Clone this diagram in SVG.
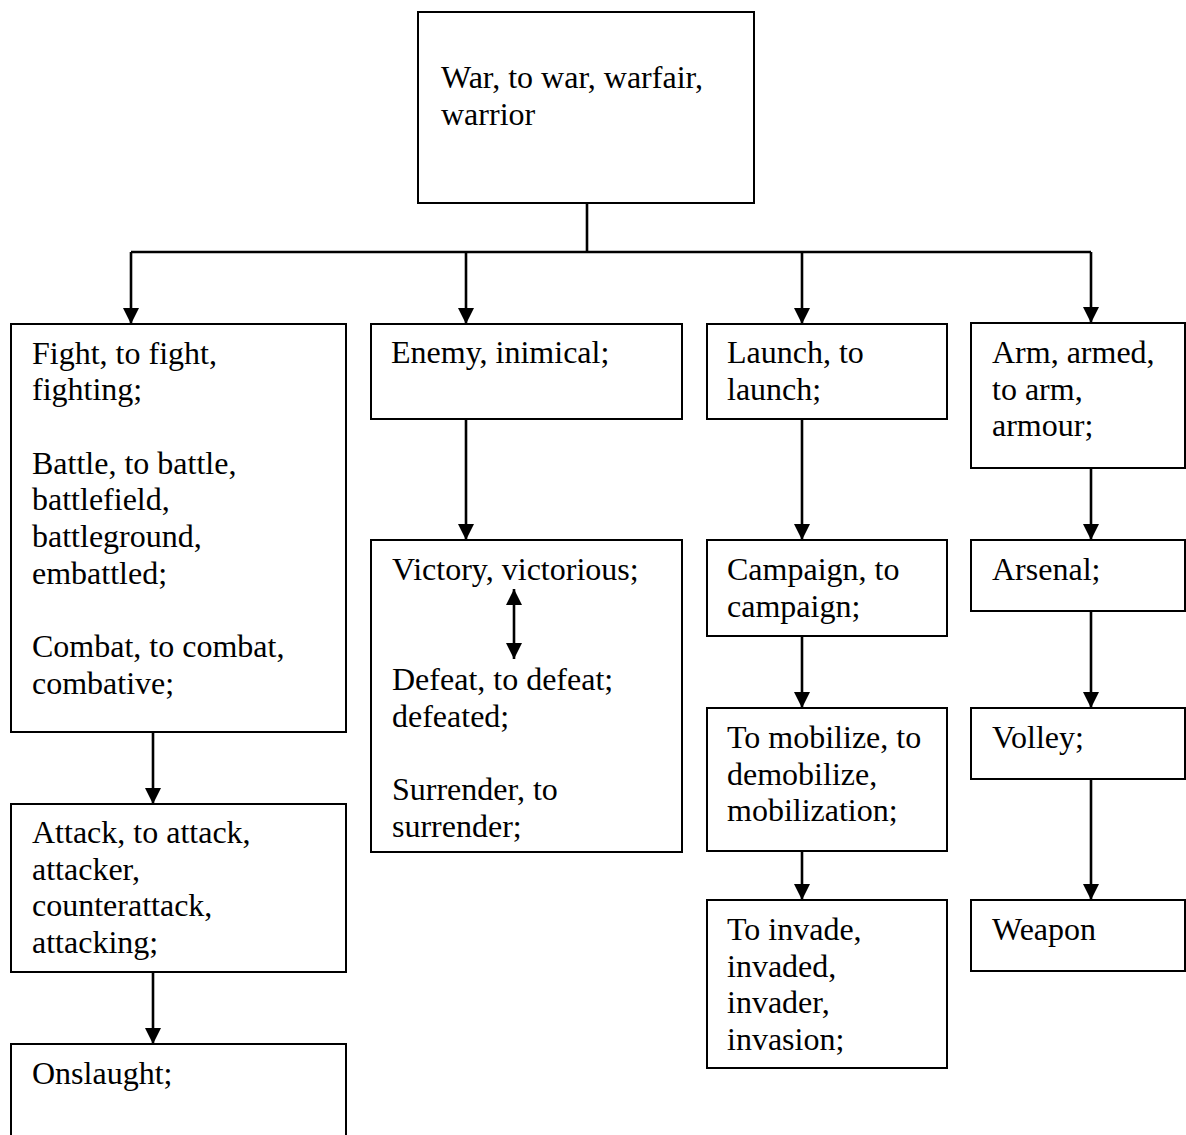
<svg xmlns="http://www.w3.org/2000/svg" width="1186" height="1135" viewBox="0 0 1186 1135">
<style>
.box{fill:#fff;stroke:#000;stroke-width:2}
.t{font-family:"Liberation Serif","Times New Roman",serif;font-size:32px;fill:#000}
.c{stroke:#000;stroke-width:2.6;fill:none}
.a{marker-end:url(#ah)}
</style>
<defs>
<marker id="ah" markerUnits="userSpaceOnUse" markerWidth="18" markerHeight="18" viewBox="0 0 18 18" refX="17" refY="9" orient="auto">
<path d="M1,1 L17,9 L1,17 Z" fill="#000"/>
</marker>
<marker id="as" markerUnits="userSpaceOnUse" markerWidth="18" markerHeight="18" viewBox="0 0 18 18" refX="1" refY="9" orient="auto">
<path d="M17,1 L1,9 L17,17 Z" fill="#000"/>
</marker>
</defs>
<rect width="1186" height="1135" fill="#fff"/>
<g id="war">
<rect class="box" x="418" y="12" width="336" height="191"/>
<text class="t" x="441" y="88">War, to war, warfair,<tspan x="441" dy="37">warrior</tspan></text>
</g>
<g id="fight">
<rect class="box" x="11" y="324" width="335" height="408"/>
<text class="t" x="32" y="363.5">Fight, to fight,<tspan x="32" dy="36.7">fighting;</tspan><tspan x="32" dy="73.4">Battle, to battle,</tspan><tspan x="32" dy="36.7">battlefield,</tspan><tspan x="32" dy="36.7">battleground,</tspan><tspan x="32" dy="36.7">embattled;</tspan><tspan x="32" dy="73.4">Combat, to combat,</tspan><tspan x="32" dy="36.7">combative;</tspan></text>
</g>
<g id="attack">
<rect class="box" x="11" y="804" width="335" height="168"/>
<text class="t" x="32" y="843">Attack, to attack,<tspan x="32" dy="36.7">attacker,</tspan><tspan x="32" dy="36.7">counterattack,</tspan><tspan x="32" dy="36.7">attacking;</tspan></text>
</g>
<g id="onslaught">
<rect class="box" x="11" y="1044" width="335" height="110"/>
<text class="t" x="32" y="1084">Onslaught;</text>
</g>
<g id="enemy">
<rect class="box" x="371" y="324" width="311" height="95"/>
<text class="t" x="391" y="363">Enemy, inimical;</text>
</g>
<g id="victory">
<rect class="box" x="371" y="540" width="311" height="312"/>
<text class="t" x="392" y="580">Victory, victorious;<tspan x="392" dy="110.1">Defeat, to defeat;</tspan><tspan x="392" dy="36.7">defeated;</tspan><tspan x="392" dy="73.4">Surrender, to</tspan><tspan x="392" dy="36.7">surrender;</tspan></text>
</g>
<g id="launch">
<rect class="box" x="707" y="324" width="240" height="95"/>
<text class="t" x="727" y="363">Launch, to<tspan x="727" dy="36.7">launch;</tspan></text>
</g>
<g id="campaign">
<rect class="box" x="707" y="540" width="240" height="96"/>
<text class="t" x="727" y="580">Campaign, to<tspan x="727" dy="36.7">campaign;</tspan></text>
</g>
<g id="mobilize">
<rect class="box" x="707" y="708" width="240" height="143"/>
<text class="t" x="727" y="748">To mobilize, to<tspan x="727" dy="36.7">demobilize,</tspan><tspan x="727" dy="36.7">mobilization;</tspan></text>
</g>
<g id="invade">
<rect class="box" x="707" y="900" width="240" height="168"/>
<text class="t" x="727" y="940">To invade,<tspan x="727" dy="36.7">invaded,</tspan><tspan x="727" dy="36.7">invader,</tspan><tspan x="727" dy="36.7">invasion;</tspan></text>
</g>
<g id="arm">
<rect class="box" x="971" y="323" width="214" height="145"/>
<text class="t" x="992" y="363">Arm, armed,<tspan x="992" dy="36.7">to arm,</tspan><tspan x="992" dy="36.7">armour;</tspan></text>
</g>
<g id="arsenal">
<rect class="box" x="971" y="540" width="214" height="71"/>
<text class="t" x="992" y="580">Arsenal;</text>
</g>
<g id="volley">
<rect class="box" x="971" y="708" width="214" height="71"/>
<text class="t" x="992" y="748">Volley;</text>
</g>
<g id="weapon">
<rect class="box" x="971" y="900" width="214" height="71"/>
<text class="t" x="992" y="940">Weapon</text>
</g>
<g id="connectors">
<path class="c" d="M587,203 V252 M131,252 H1091"/>
<path class="c a" d="M131,252 V324"/>
<path class="c a" d="M466,252 V324"/>
<path class="c a" d="M802,252 V324"/>
<path class="c a" d="M1091,252 V323"/>
<path class="c a" d="M153,732 V804"/>
<path class="c a" d="M153,972 V1044"/>
<path class="c a" d="M466,419 V540"/>
<path class="c a" d="M802,419 V540"/>
<path class="c a" d="M802,636 V708"/>
<path class="c a" d="M802,851 V900"/>
<path class="c a" d="M1091,468 V540"/>
<path class="c a" d="M1091,611 V708"/>
<path class="c a" d="M1091,779 V900"/>
<path class="c a" d="M514,589 V659" marker-start="url(#as)"/>
</g>
</svg>
